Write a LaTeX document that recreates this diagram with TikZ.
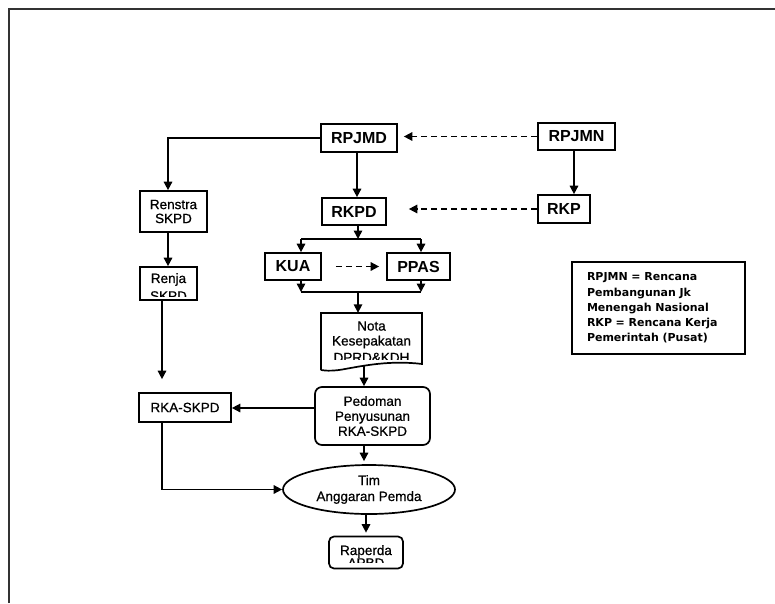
\documentclass[tikz,border=0pt]{standalone}
\usepackage{fontspec}
\setmainfont{Liberation Sans}
\newfontfamily\medfont{Liberation Sans}[FakeBold=0.7]
\newfontfamily\legfont{DejaVu Sans}
\usetikzlibrary{arrows.meta,shapes.geometric}
\tikzset{
  bigbox/.style={draw, line width=1.7pt, inner sep=0pt, font=\fontsize{16}{18}\selectfont\bfseries},
  smallbox/.style={draw, line width=1.7pt, inner sep=0pt, align=center, font=\medfont\fontsize{13.5}{14.5}\selectfont},
  txt/.style={inner sep=0pt, font=\medfont\fontsize{13.5}{15.5}\selectfont},
  arr/.style={line width=1.6pt, -{Triangle[length=8.5pt,width=8.5pt]}},
  ln/.style={line width=1.6pt},
  dasharr/.style={line width=1.6pt, dash pattern=on 6pt off 4pt, -{Triangle[length=8.5pt,width=8.5pt]}}
}
\begin{document}
\begin{tikzpicture}[x=1pt,y=-1pt]
\useasboundingbox (0,0) rectangle (775,603);
% frame
\draw[line width=2.4pt, black!80] (9,603) -- (9,9) -- (775,9);
% nodes
\node[bigbox, minimum width=76pt, minimum height=28pt] (rpjmd) at (359,138) {RPJMD};
\node[bigbox, minimum width=77pt, minimum height=27pt] (rpjmn) at (576.5,136.5) {RPJMN};
\node[bigbox, minimum width=52pt, minimum height=28pt] (rkp) at (564,209) {RKP};
\node[bigbox, minimum width=64pt, minimum height=27pt] (rkpd) at (354,211.5) {RKPD};
\node[bigbox, minimum width=56pt, minimum height=27pt] (kua) at (293,266.5) {KUA};
\node[bigbox, minimum width=63pt, minimum height=27pt] (ppas) at (418.5,266.5) {PPAS};
\node[smallbox, minimum width=67pt, minimum height=41pt, font=\medfont\fontsize{13.5}{14}\selectfont] (renstra) at (173.5,211.5) {Renstra\\SKPD};
% Renja (text cut at the bottom)
\node[draw, line width=1.7pt, minimum width=57pt, minimum height=33pt, inner sep=0pt] (renja) at (168.5,283.5) {};
\begin{scope}
  \clip (141,268) rectangle (196,296.5);
  \node[txt] (renjaA) at (168.5,279.5) {Renja};
  \node[txt] (renjaB) at (168.5,296) {SKPD};
\end{scope}
\node[smallbox, minimum width=92pt, minimum height=29pt] (rka) at (185,407.5) {RKA-SKPD};
% Nota (document shape)
\node[minimum width=101pt, minimum height=57pt, inner sep=0pt] (nota) at (371.5,341.5) {};
\draw[line width=1.7pt] (321,370) -- (321,313) -- (422,313) -- (422,364)
  .. controls (390,360) and (362,366) .. (345,369) .. controls (335,371) and (326,371) .. (321,370);
\begin{scope}
  \clip (322,314) rectangle (421,359.5);
  \node[txt] (notaA) at (371.5,326) {Nota};
  \node[txt] (notaB) at (371.5,342) {Kesepakatan};
  \node[txt] (notaC) at (371.5,357.5) {DPRD\&KDH};
\end{scope}
\node[draw, line width=1.7pt, rounded corners=7pt, minimum width=115pt, minimum height=58pt, inner sep=0pt,
  align=center, font=\medfont\fontsize{13.5}{15}\selectfont] (pedoman) at (372.5,416) {Pedoman\\Penyusunan\\RKA-SKPD};
\node[draw, ellipse, line width=1.7pt, minimum width=172pt, minimum height=49pt, inner sep=0pt,
  align=center, font=\medfont\fontsize{13.5}{16}\selectfont] (tim) at (369,489.5) {Tim\\Anggaran Pemda};
% Raperda (text cut at the bottom)
\node[draw, line width=1.7pt, rounded corners=5pt, minimum width=74pt, minimum height=32pt, inner sep=0pt] (raperda) at (366,552.5) {};
\begin{scope}
  \clip (330,538) rectangle (402,562.5);
  \node[txt] (raperA) at (366,551.5) {Raperda};
  \node[txt] (raperB) at (366,563) {APBD};
\end{scope}
% legend
\node[draw, line width=1.7pt, minimum width=173pt, minimum height=92pt, text width=143pt, inner xsep=15pt, inner ysep=0pt,
  align=left, font=\legfont\bfseries\fontsize{11}{15.25}\selectfont] (legend) at (658.5,308)
  {RPJMN = Rencana\\Pembangunan Jk\\Menengah Nasional\\RKP = Rencana Kerja\\Pemerintah (Pusat)};
% connectors
\draw[dasharr, shorten >=6pt] (rpjmn.west) -- (rpjmn.west -| rpjmd.east);
\draw[arr] ([xshift=-2.5pt]rpjmn.south) -- ([xshift=-2.5pt]rpjmn.south |- rkp.north);
\draw[dasharr, shorten >=22pt] (rkp.west) -- (rkp.west -| rkpd.east);
\draw[arr] ([xshift=-2pt]rpjmd.south) -- ([xshift=-2pt]rpjmd.south |- rkpd.north);
\draw[arr] (rpjmd.west) -| ([xshift=-5.5pt]renstra.north);
\draw[arr] ([xshift=-5.5pt]renstra.south) -- ([xshift=-5.5pt]renstra.south |- renja.north);
\draw[arr, shorten >=13pt] ([xshift=-6.5pt]renja.south) -- ([xshift=-6.5pt]renja.south |- rka.north);
\coordinate (split) at (358,239);
\coordinate (merge) at (358,292);
\draw[arr] (rkpd.south -| split) -- (split);
\draw[ln] ([xshift=8pt]kua.north |- split) -- ([xshift=2.5pt]ppas.north |- split);
\draw[arr] ([xshift=8pt]kua.north |- split) -- ([xshift=8pt]kua.north);
\draw[arr] ([xshift=2.5pt]ppas.north |- split) -- ([xshift=2.5pt]ppas.north);
\draw[dasharr, shorten <=14pt, shorten >=7pt] (kua.east) -- (ppas.west);
\draw[arr] ([xshift=8pt]kua.south) -- ([xshift=8pt]kua.south |- merge);
\draw[arr] ([xshift=2.5pt]ppas.south) -- ([xshift=2.5pt]ppas.south |- merge);
\draw[ln] ([xshift=8pt]kua.south |- merge) -- ([xshift=2.5pt]ppas.south |- merge);
\draw[arr] (merge) -- (merge |- nota.north);
\coordinate (notaout) at (364,366);
\draw[arr] (notaout) -- (notaout |- pedoman.north);
\draw[arr] ([yshift=8pt]pedoman.west) -- ([yshift=8pt]pedoman.west -| rka.east);
\draw[arr, shorten >=3pt] ([xshift=-8.5pt]pedoman.south) -- ([xshift=-8.5pt]pedoman.south |- tim.north);
\draw[arr] ([xshift=-23pt]rka.south) |- (tim.west);
\draw[arr, shorten >=3pt] (tim.south -| raperda.north) -- (raperda.north);
\end{tikzpicture}
\end{document}
